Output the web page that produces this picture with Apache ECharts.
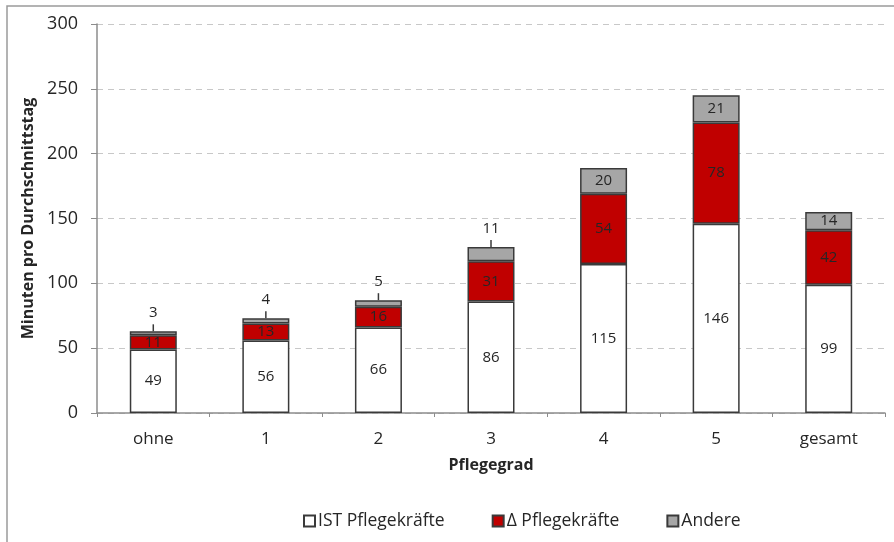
<!DOCTYPE html>
<html><head><meta charset="utf-8">
<script src="https://cdn.jsdelivr.net/npm/echarts@6/dist/echarts.min.js"></script>
<style>html,body{margin:0;padding:0;background:#fff}#c{width:894px;height:542px}</style>
</head><body><div id="c"></div>
<script>
const categories = ['ohne', '1', '2', '3', '4', '5', 'gesamt'];
const istPflege = [49, 56, 66, 86, 115, 146, 99];
const deltaPflege = [11, 13, 16, 31, 54, 78, 42];
const andere = [3, 4, 5, 11, 20, 21, 14];
const yTicks = [0, 50, 100, 150, 200, 250, 300];

const FONT = '"Open Sans", "DejaVu Sans", sans-serif';
const labelColor = '#262626';
const border = { borderColor: '#3a3a3a', borderWidth: 1.5 };
const smallLimit = 12;

const chart = echarts.init(document.getElementById('c'), null, { renderer: 'canvas' });

const baseLabel = { show: true, position: 'inside', color: labelColor, fontSize: 15, fontFamily: FONT };

chart.setOption({
  animation: false,
  textStyle: { fontFamily: FONT },
  graphic: [{
    type: 'rect', shape: { x: 7, y: 6, width: 1000, height: 1000 },
    style: { fill: 'none', stroke: '#9a9a9a', lineWidth: 1.5 }, silent: true, z: -10
  }],
  grid: { left: 97, right: 9, top: 24, bottom: 129 },
  legend: {
    left: 298, top: 507, itemWidth: 11, itemHeight: 11, itemGap: 47,
    icon: 'rect',
    textStyle: { fontSize: 17.5, color: '#262626', fontFamily: FONT, padding: [0, 0, 0, -2] },
    data: ['IST Pflegekräfte', 'Δ Pflegekräfte', 'Andere']
  },
  xAxis: {
    type: 'category', data: categories,
    name: 'Pflegegrad', nameLocation: 'middle', nameGap: 44,
    nameTextStyle: { fontSize: 16, fontWeight: 'bold', color: '#262626', fontFamily: FONT },
    axisLine: { lineStyle: { color: '#8c8c8c', width: 1.5 } },
    axisTick: { show: true, length: 4, alignWithLabel: false, lineStyle: { color: '#8c8c8c' } },
    axisLabel: { fontSize: 17, color: '#262626', margin: 18, fontFamily: FONT }
  },
  yAxis: {
    type: 'value', min: yTicks[0], max: yTicks[yTicks.length - 1], interval: 50,
    name: 'Minuten pro Durchschnittstag', nameLocation: 'middle', nameGap: 57,
    nameTextStyle: { fontSize: 16, fontWeight: 'bold', color: '#262626', fontFamily: FONT },
    axisLine: { show: true, lineStyle: { color: '#8c8c8c', width: 1.5 } },
    axisTick: { show: true, length: 6, lineStyle: { color: '#8c8c8c' } },
    axisLabel: { fontSize: 18, color: '#262626', margin: 19, fontFamily: FONT },
    splitLine: { lineStyle: { color: '#c8c8c8', type: [6, 5], width: 1.2 } }
  },
  series: [
    {
      name: 'IST Pflegekräfte', type: 'bar', stack: 's', barWidth: 47,
      data: istPflege,
      itemStyle: Object.assign({ color: '#ffffff' }, border),
      label: baseLabel
    },
    {
      name: 'Δ Pflegekräfte', type: 'bar', stack: 's', barWidth: 47,
      data: deltaPflege,
      itemStyle: Object.assign({ color: '#c00000' }, border),
      label: baseLabel
    },
    {
      name: 'Andere', type: 'bar', stack: 's', barWidth: 47,
      data: andere.map(v => v < smallLimit
        ? { value: v, label: { position: 'top', distance: 11 } }
        : { value: v }),
      itemStyle: Object.assign({ color: '#a6a6a6' }, border),
      label: baseLabel
    },
    {
      name: 'leader', type: 'custom', silent: true, z: 5,
      data: categories.map((c, i) => [i, istPflege[i] + deltaPflege[i] + andere[i], andere[i]]),
      renderItem: function (params, api) {
        if (api.value(2) >= smallLimit) return null;
        const p = api.coord([api.value(0), api.value(1)]);
        return {
          type: 'line',
          shape: { x1: p[0], y1: p[1], x2: p[0], y2: p[1] - 7 },
          style: { stroke: '#3a3a3a', lineWidth: 1.5 }
        };
      }
    }
  ]
});
</script></body></html>
